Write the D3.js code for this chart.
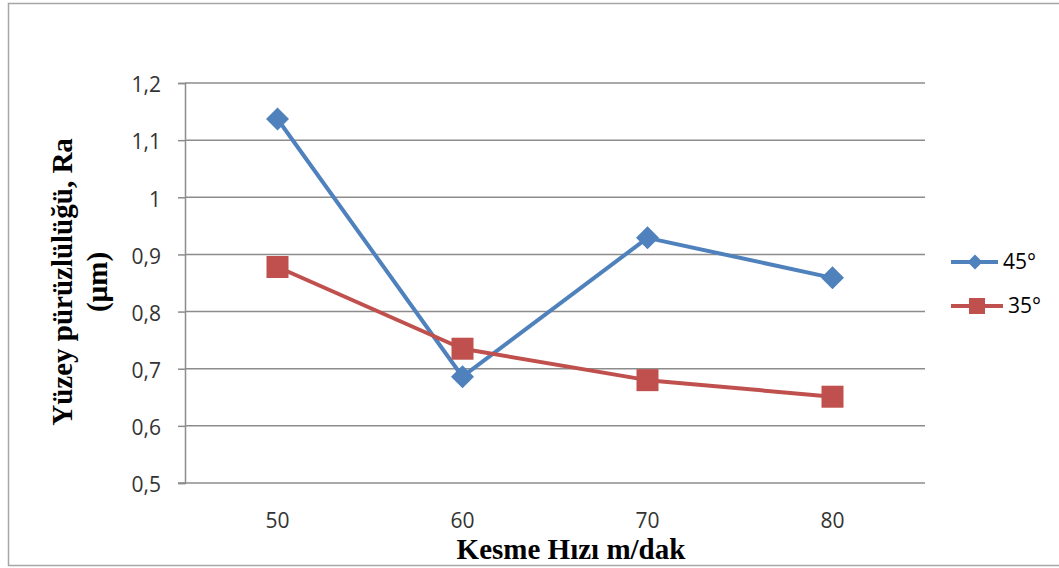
<!DOCTYPE html>
<html>
<head>
<meta charset="utf-8">
<script src="https://cdn.jsdelivr.net/npm/d3@7"></script>
<style>
  html, body { margin: 0; padding: 0; background: #fff; }
  svg { display: block; }
</style>
</head>
<body>
<svg id="chart" width="1059" height="568"></svg>
<script>
// Cutting speed (m/dak) on the x axis
const categories = [50, 60, 70, 80];
// Surface roughness Ra (µm) per tool angle
const series45 = [1.137, 0.686, 0.929, 0.859];
const series35 = [0.878, 0.735, 0.680, 0.651];
const yTicks = [0.5, 0.6, 0.7, 0.8, 0.9, 1.0, 1.1, 1.2];
const seriesNames = ["45°", "35°"];

const svg = d3.select("#chart");
const W = 1059;
const plot = { left: 185, right: 925, top: 83, bottom: 483 };
const labelFont = "'Open Sans', sans-serif";
const titleFont = "'Liberation Serif', 'Times New Roman', serif";

// outer chart frame
svg.append("rect")
  .attr("x", 8.5).attr("y", 3.5)
  .attr("width", W + 10).attr("height", 562)
  .attr("fill", "#fff")
  .attr("stroke", "#a6a6a6").attr("stroke-width", 1.5);

const x = d3.scaleBand()
  .domain(categories)
  .range([plot.left, plot.right])
  .paddingInner(0).paddingOuter(0);

const y = d3.scaleLinear()
  .domain([0.5, 1.2])
  .range([plot.bottom, plot.top]);

const fmt = d => d3.format(".1f")(d).replace(".", ",").replace(/,0$/, "");

// horizontal gridlines
svg.append("g")
  .selectAll("line")
  .data(yTicks.filter(t => t > 0.5))
  .join("line")
  .attr("x1", plot.left).attr("x2", plot.right)
  .attr("y1", d => y(d)).attr("y2", d => y(d))
  .attr("stroke", "#8c8c8c").attr("stroke-width", 1.5);

// y axis
const yAxis = d3.axisLeft(y).tickValues(yTicks).tickFormat(fmt).tickSize(7).tickPadding(17);
const gy = svg.append("g")
  .attr("transform", `translate(${plot.left},0)`)
  .call(yAxis);
gy.select(".domain").attr("stroke", "#8c8c8c").attr("stroke-width", 1.5);
gy.selectAll(".tick line").attr("stroke", "#8c8c8c").attr("stroke-width", 1.5);
gy.selectAll(".tick text")
  .attr("font-family", labelFont).attr("dy", "0.42em")
  .attr("font-size", 21).attr("fill", "#333");

// x axis
const xAxis = d3.axisBottom(x).tickSize(0);
const gx = svg.append("g")
  .attr("transform", `translate(0,${plot.bottom})`)
  .call(xAxis);
gx.select(".domain").remove();
gx.selectAll(".tick text")
  .attr("y", 45).attr("dy", 0)
  .attr("font-family", labelFont)
  .attr("font-size", 21).attr("fill", "#333");
svg.append("line")
  .attr("x1", plot.left - 7).attr("x2", plot.right)
  .attr("y1", plot.bottom).attr("y2", plot.bottom)
  .attr("stroke", "#8c8c8c").attr("stroke-width", 1.5);

// axis titles
svg.append("text")
  .attr("x", 571).attr("y", 559)
  .attr("text-anchor", "middle")
  .attr("font-family", titleFont)
  .attr("font-weight", "bold").attr("font-size", 29).attr("fill", "#000")
  .text("Kesme Hızı m/dak");

const yTitle = svg.append("text")
  .attr("transform", "translate(0,282) rotate(-90)")
  .attr("text-anchor", "middle")
  .attr("font-family", titleFont)
  .attr("font-weight", "bold").attr("font-size", 29).attr("fill", "#000");
yTitle.append("tspan").attr("x", 0).attr("y", 72).text("Yüzey pürüzlülüğü, Ra");
yTitle.append("tspan").attr("x", 0).attr("y", 107).text("(µm)");

const cx = d => x(d) + x.bandwidth() / 2;
const line = d3.line().x(d => cx(d.c)).y(d => y(d.v));

const blue = "#4f81bd", red = "#c0504d";
const data45 = categories.map((c, i) => ({ c, v: series45[i] }));
const data35 = categories.map((c, i) => ({ c, v: series35[i] }));

// 45° series line
svg.append("path").datum(data45)
  .attr("d", line).attr("fill", "none")
  .attr("stroke", blue).attr("stroke-width", 4).attr("stroke-linejoin", "round");

// 35° series line
svg.append("path").datum(data35)
  .attr("d", line).attr("fill", "none")
  .attr("stroke", red).attr("stroke-width", 4).attr("stroke-linejoin", "round");

const diamond = s => `M0,${-s}L${s},0L0,${s}L${-s},0Z`;

// 35° square markers
svg.append("g").selectAll("rect")
  .data(data35).join("rect")
  .attr("x", d => cx(d.c) - 11).attr("y", d => y(d.v) - 11)
  .attr("width", 22).attr("height", 22)
  .attr("fill", red);

// 45° diamond markers
svg.append("g").selectAll("path")
  .data(data45).join("path")
  .attr("transform", d => `translate(${cx(d.c)},${y(d.v)})`)
  .attr("d", diamond(11.5))
  .attr("fill", blue);

// legend
const lg = svg.append("g");
const legendRows = [
  { name: seriesNames[0], color: blue, y: 262, x2: 998, tx: 1003, shape: "diamond" },
  { name: seriesNames[1], color: red, y: 306, x2: 1003, tx: 1008, shape: "square" }
];
legendRows.forEach(r => {
  lg.append("line")
    .attr("x1", 951).attr("x2", r.x2).attr("y1", r.y).attr("y2", r.y)
    .attr("stroke", r.color).attr("stroke-width", 4);
  if (r.shape === "diamond") {
    lg.append("path").attr("transform", `translate(975,${r.y})`)
      .attr("d", diamond(7.5)).attr("fill", r.color);
  } else {
    lg.append("rect").attr("x", 969).attr("y", r.y - 8)
      .attr("width", 16).attr("height", 16).attr("fill", r.color);
  }
  lg.append("text")
    .attr("x", r.tx).attr("y", r.y + 7)
    .attr("font-family", labelFont)
    .attr("font-size", 21).attr("fill", "#000")
    .text(r.name);
});
</script>
</body>
</html>
